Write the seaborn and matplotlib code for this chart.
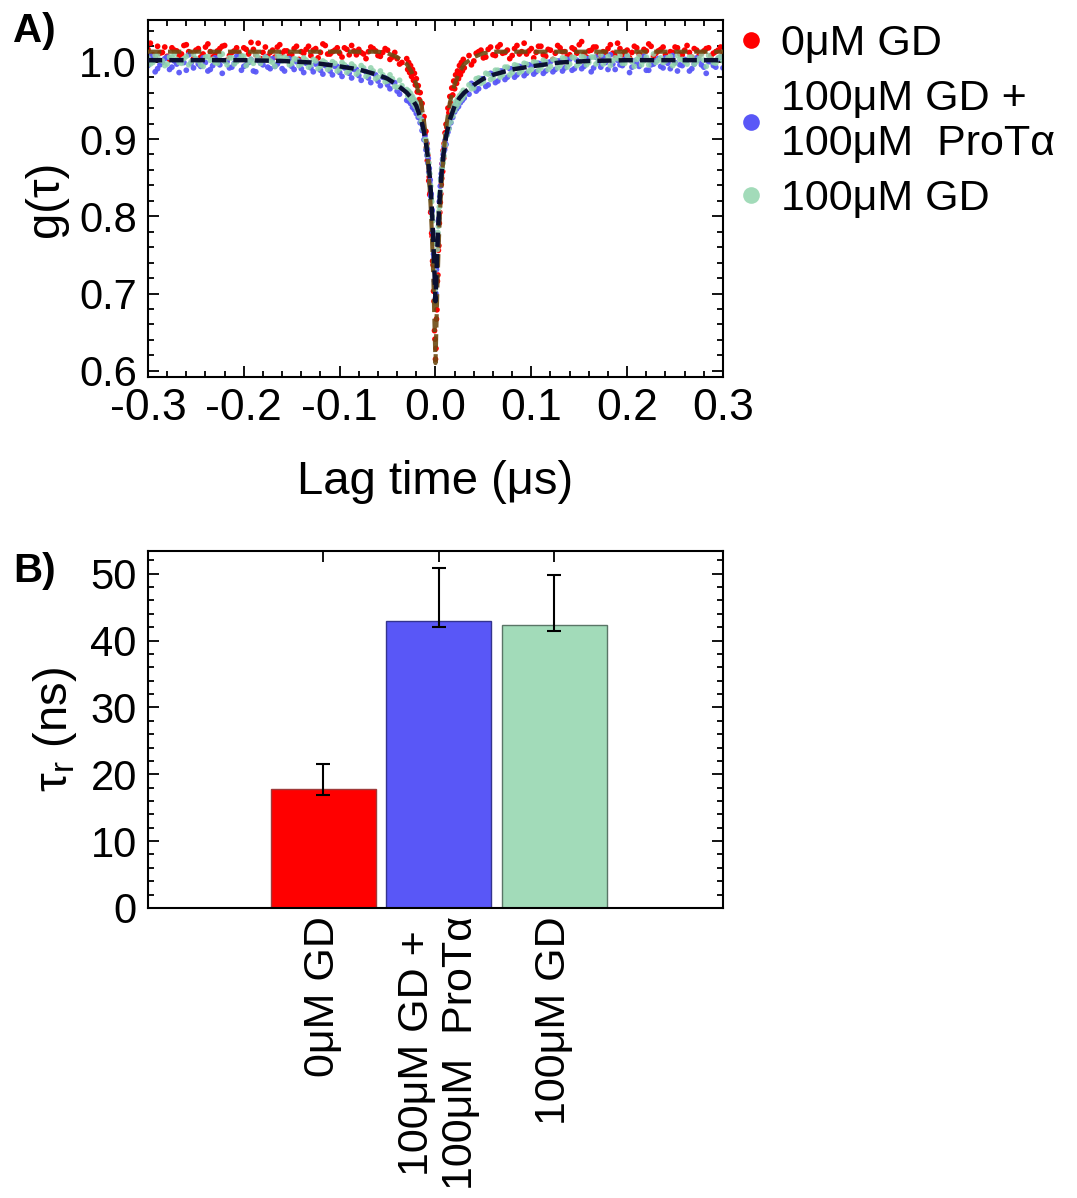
import numpy as np
import pandas as pd
import matplotlib
matplotlib.use("Agg")
import matplotlib.pyplot as plt
from matplotlib.lines import Line2D
from matplotlib.ticker import MultipleLocator, FixedLocator
import seaborn as sns

# ---------------------------------------------------------------- data --
# lag grid (µs): coarse wings, finer shoulders, finest bins around zero
WING = np.round(np.arange(0.035, 0.3001, 0.005), 3)
SHOULDER = np.round(np.arange(0.011, 0.0301, 0.001), 3)
CORE = np.round(np.arange(-0.010, 0.01001, 0.0005), 4)
LAG = np.concatenate([-WING[::-1], -SHOULDER[::-1], CORE, SHOULDER, WING])
# second set of wing bins, half a bin offset from the first
WING_B = np.round(np.arange(0.0375, 0.3, 0.005), 4)
LAG_B = np.concatenate([-WING_B[::-1], WING_B])

G_0GD = [
    1.016, 1.009, 1.020, 1.012, 1.007, 1.018, 1.014, 1.010, 1.022, 1.011,
    1.015, 1.006, 1.019, 1.013, 1.009, 1.017, 1.021, 1.008, 1.014, 1.011,
    1.018, 1.010, 1.016, 1.024, 1.012, 1.007, 1.015, 1.019, 1.011, 1.014,
    1.009, 1.020, 1.013, 1.016, 1.008, 1.017, 1.012, 1.021, 1.010, 1.015,
    1.011, 1.018, 1.009, 1.014, 1.016, 1.010, 1.013, 1.017, 1.008, 1.012,
    1.015, 1.006, 1.004, 0.999,
    1.004, 0.990, 0.999, 0.986, 0.995, 0.981, 0.990, 0.976, 0.985, 0.970,
    0.978, 0.961, 0.969, 0.951, 0.960, 0.941, 0.946, 0.925, 0.929, 0.906,
    0.910, 0.889, 0.894, 0.872, 0.879, 0.870, 0.846, 0.851, 0.828, 0.830,
    0.805, 0.806, 0.778, 0.774, 0.742, 0.737, 0.703, 0.690, 0.652, 0.641,
    0.615,
    0.629, 0.667, 0.679, 0.716, 0.724, 0.756, 0.762, 0.791, 0.805, 0.818,
    0.829, 0.841, 0.849, 0.868, 0.858, 0.885, 0.875, 0.894, 0.889, 0.908,
    0.919, 0.915, 0.940, 0.934, 0.955, 0.946, 0.966, 0.957, 0.975, 0.965,
    0.983, 0.972, 0.988, 0.978, 0.995, 0.983, 0.999, 0.988, 1.003, 0.992,
    1.008, 1.001, 1.013, 1.005, 1.016, 1.009, 1.019, 1.011, 1.015, 1.008,
    1.021, 1.013, 1.010, 1.017, 1.012, 1.020, 1.007, 1.015, 1.011, 1.018,
    1.013, 1.009, 1.016, 1.022, 1.010, 1.014, 1.019, 1.008, 1.013, 1.017,
    1.011, 1.024, 1.009, 1.015, 1.012, 1.018, 1.007, 1.014, 1.020, 1.011,
    1.016, 1.009, 1.013, 1.019, 1.010, 1.015, 1.012, 1.017, 1.008, 1.014,
    1.018, 1.011, 1.015, 1.010,
]
G_0GD_B = [
    1.024, 1.005, 1.011, 1.019, 1.003, 1.015, 1.008, 1.021, 1.013, 1.004,
    1.017, 1.010, 1.023, 1.006, 1.014, 1.020, 1.002, 1.012, 1.018, 1.007,
    1.016, 1.025, 1.009, 1.004, 1.019, 1.012, 1.006, 1.022, 1.014, 1.008,
    1.017, 1.003, 1.011, 1.020, 1.015, 1.005, 1.023, 1.010, 1.013, 1.018,
    1.006, 1.016, 1.021, 1.009, 1.012, 1.004, 1.019, 1.014,
    1.007, 1.017, 1.003, 1.012, 0.997,
    0.996, 1.011, 1.015, 1.006, 1.019,
    1.008, 1.022, 1.012, 1.004, 1.017, 1.010, 1.024, 1.014, 1.005, 1.020,
    1.009, 1.016, 1.003, 1.021, 1.013, 1.007, 1.018, 1.011, 1.026, 1.006,
    1.015, 1.019, 1.004, 1.012, 1.022, 1.008, 1.017, 1.013, 1.005, 1.020,
    1.010, 1.016, 1.023, 1.007, 1.014, 1.019, 1.004, 1.012, 1.018, 1.009,
    1.021, 1.006, 1.015, 1.011, 1.017, 1.008, 1.013, 1.019,
]

G_GD_PROTA = [
    0.995, 1.004, 0.991, 0.999, 1.006, 0.993, 0.997, 1.002, 0.989, 0.998,
    1.003, 0.994, 0.999, 0.990, 1.005, 0.996, 1.001, 0.992, 0.998, 1.007,
    0.994, 0.999, 0.988, 1.002, 0.996, 0.993, 1.004, 0.997, 0.991,
    1.002, 0.994, 1.000, 0.991, 0.998, 0.992, 0.997, 0.989, 0.995, 0.988,
    0.994, 0.986, 0.992, 0.985, 0.990, 0.982, 0.989, 0.979, 0.985, 0.975,
    0.980, 0.970, 0.974, 0.962, 0.965,
    0.950, 0.961, 0.949, 0.957, 0.946, 0.954, 0.941, 0.950, 0.938, 0.947,
    0.933, 0.942, 0.928, 0.935, 0.921, 0.926, 0.911, 0.917, 0.899, 0.904,
    0.886, 0.896, 0.879, 0.887, 0.869, 0.875, 0.857, 0.862, 0.843, 0.847,
    0.826, 0.829, 0.806, 0.808, 0.781, 0.779, 0.751, 0.747, 0.716, 0.711,
    0.694,
    0.700, 0.731, 0.737, 0.764, 0.768, 0.794, 0.797, 0.819, 0.826, 0.839,
    0.849, 0.855, 0.862, 0.868, 0.874, 0.880, 0.883, 0.890, 0.886, 0.898,
    0.893, 0.906, 0.909, 0.914, 0.922, 0.921, 0.930, 0.928, 0.938, 0.935,
    0.944, 0.939, 0.948, 0.942, 0.952, 0.947, 0.955, 0.950, 0.958, 0.953,
    0.958, 0.969, 0.965, 0.978, 0.970, 0.984, 0.975, 0.988, 0.980, 0.991,
    0.983, 0.993, 0.985, 0.995, 0.987, 0.997, 0.988, 1.000, 0.990, 1.001,
    0.992, 1.003, 0.991, 1.000, 0.994,
    1.004, 0.992, 0.999, 1.006, 0.990, 0.997, 1.002, 0.995, 1.007, 0.993,
    0.998, 1.003, 0.989, 0.996, 1.001, 0.994, 1.005, 0.991, 0.999, 0.996,
    1.003, 0.988, 0.997, 1.002, 0.993, 1.000, 0.995, 1.004, 0.992,
]
G_GD_PROTA_B = [
    1.008, 0.987, 0.996, 1.004, 0.990, 1.001, 0.986, 0.999, 1.009, 0.992,
    0.997, 1.005, 0.988, 0.995, 1.002, 0.985, 1.000, 0.993, 1.007, 0.989,
    0.996, 1.003, 0.987, 0.998, 1.006, 0.991, 0.994, 1.001,
    0.988, 1.004, 0.990, 1.001, 0.986, 0.999, 0.987, 0.997, 0.984, 0.996,
    0.983, 0.994, 0.981, 0.993, 0.979, 0.990, 0.976, 0.987, 0.973, 0.983,
    0.969, 0.979, 0.965, 0.973, 0.958,
    0.972, 0.962, 0.978, 0.968, 0.985, 0.973, 0.988, 0.977, 0.991, 0.980,
    0.994, 0.982, 0.996, 0.984, 0.998, 0.985, 0.999, 0.987, 1.001, 0.988,
    1.003, 0.989, 1.002, 0.991, 1.004,
    0.987, 1.006, 0.993, 0.999, 1.009, 0.990, 0.996, 1.003, 0.986, 1.001,
    0.994, 1.007, 0.989, 0.997, 1.004, 0.992, 0.998, 1.008, 0.988, 0.995,
    1.002, 0.991, 1.005, 0.996, 0.985, 1.000, 0.993, 1.006,
]

G_100GD = [
    1.005, 0.999, 1.008, 1.001, 0.997, 1.006, 1.003, 0.998, 1.007, 1.000,
    1.004, 0.996, 1.006, 1.002, 0.999, 1.008, 1.001, 1.005, 0.997, 1.003,
    1.007, 1.000, 0.998, 1.006, 1.002, 1.004, 0.999, 1.007, 1.001,
    1.004, 0.998, 1.003, 0.997, 1.002, 0.996, 1.001, 0.994, 0.999, 0.993,
    0.998, 0.991, 0.996, 0.989, 0.994, 0.987, 0.992, 0.984, 0.988, 0.980,
    0.983, 0.975, 0.978, 0.967, 0.969,
    0.964, 0.956, 0.962, 0.953, 0.959, 0.950, 0.955, 0.946, 0.951, 0.942,
    0.947, 0.937, 0.941, 0.930, 0.933, 0.922, 0.924, 0.912, 0.913, 0.899,
    0.899, 0.888, 0.891, 0.879, 0.881, 0.868, 0.869, 0.855, 0.855, 0.840,
    0.839, 0.822, 0.819, 0.800, 0.794, 0.772, 0.765, 0.740, 0.729, 0.705,
    0.688,
    0.711, 0.722, 0.746, 0.757, 0.779, 0.787, 0.806, 0.812, 0.829, 0.832,
    0.847, 0.849, 0.861, 0.862, 0.873, 0.869, 0.884, 0.878, 0.893, 0.892,
    0.906, 0.905, 0.918, 0.913, 0.928, 0.922, 0.936, 0.930, 0.943, 0.937,
    0.948, 0.942, 0.952, 0.946, 0.956, 0.950, 0.959, 0.953, 0.963, 0.957,
    0.970, 0.966, 0.979, 0.974, 0.984, 0.979, 0.989, 0.983, 0.993, 0.986,
    0.995, 0.988, 0.997, 0.990, 0.999, 0.992, 1.000, 0.994, 1.002, 0.995,
    1.004, 0.997, 1.005, 0.998, 1.006,
    0.999, 1.006, 1.002, 0.997, 1.007, 1.001, 1.004, 0.998, 1.008, 1.000,
    1.003, 0.996, 1.006, 1.002, 0.999, 1.005, 1.001, 1.007, 0.998, 1.003,
    1.000, 1.006, 0.997, 1.004, 1.002, 1.008, 0.999, 1.005, 1.001,
]
G_100GD_B = [
    0.997, 1.008, 1.002, 0.995, 1.006, 1.010, 0.999, 1.004, 0.996, 1.009,
    1.001, 0.994, 1.007, 1.003, 0.998, 1.010, 0.996, 1.005, 1.000, 1.008,
    0.995, 1.003, 1.009, 0.998, 1.006, 1.001, 0.994, 1.007,
    1.006, 0.996, 1.004, 0.995, 1.005, 0.993, 1.003, 0.991, 1.001, 0.990,
    1.000, 0.988, 0.999, 0.986, 0.997, 0.984, 0.995, 0.981, 0.992, 0.978,
    0.988, 0.974, 0.983, 0.968, 0.976,
    0.965, 0.978, 0.972, 0.985, 0.977, 0.989, 0.980, 0.993, 0.983, 0.996,
    0.986, 0.998, 0.988, 1.000, 0.989, 1.002, 0.990, 1.003, 0.992, 1.005,
    0.993, 1.006, 0.995, 1.007, 0.996,
    1.006, 0.997, 1.009, 1.001, 0.995, 1.005, 1.008, 0.998, 1.003, 0.994,
    1.007, 1.001, 0.996, 1.010, 1.002, 0.999, 1.005, 0.995, 1.008, 1.003,
    0.997, 1.006, 1.000, 1.009, 0.994, 1.004, 0.998, 1.007,
]

# fitted correlation curves, tabulated against |lag|
FIT_LAG = [0.0, 0.001, 0.002, 0.003, 0.004, 0.005, 0.006, 0.007, 0.008,
           0.010, 0.012, 0.015, 0.020, 0.025, 0.030, 0.040, 0.050, 0.060,
           0.080, 0.100, 0.130, 0.160, 0.200, 0.300]
FIT_0GD = [0.610, 0.660, 0.710, 0.750, 0.785, 0.812, 0.835, 0.855, 0.872,
           0.902, 0.923, 0.947, 0.971, 0.987, 0.997, 1.006, 1.011, 1.013,
           1.013, 1.013, 1.013, 1.013, 1.013, 1.013]
FIT_100GD = [0.690, 0.725, 0.760, 0.790, 0.815, 0.835, 0.851, 0.865, 0.877,
             0.895, 0.909, 0.925, 0.943, 0.953, 0.960, 0.970, 0.978, 0.983,
             0.990, 0.994, 0.999, 1.001, 1.002, 1.002]

# rotational correlation times
CONDITIONS = ["0μM GD", "100μM GD +\n100μM  ProTα", "100μM GD"]
LEGEND_LABELS = ["0μM GD", "100μM GD +\n100μM  ProTα", "100μM GD"]
TAU_R = [17.8, 42.9, 42.3]
TAU_R_LOW = [0.9, 0.8, 0.9]
TAU_R_HIGH = [3.8, 7.9, 7.5]

X_TICKS = [-0.3, -0.2, -0.1, 0.0, 0.1, 0.2, 0.3]
G_TICKS = [0.6, 0.7, 0.8, 0.9, 1.0]
TAU_TICKS = [0, 10, 20, 30, 40, 50]

for name, vals, grid in [("G_0GD", G_0GD, LAG), ("G_GD_PROTA", G_GD_PROTA, LAG),
                         ("G_100GD", G_100GD, LAG), ("G_0GD_B", G_0GD_B, LAG_B),
                         ("G_GD_PROTA_B", G_GD_PROTA_B, LAG_B),
                         ("G_100GD_B", G_100GD_B, LAG_B)]:
    assert len(vals) == len(grid), f"{name}: {len(vals)} values, {len(grid)} lags"

# -------------------------------------------------------------- styling --
RED = "#ff0000"
BLUE = "#5957f7"
GREEN = "#a2dbb9"
GREEN_DOT = "#8fd2ab"
FIT_RED = "#6e4a12"
FIT_DARK = "#0b1030"
EDGES = ["#a03a3a", "#34348f", "#5a7566"]

sns.set_theme(style="ticks")
plt.rcParams["font.family"] = ["Liberation Sans", "DejaVu Sans"]
plt.rcParams["mathtext.fontset"] = "custom"
plt.rcParams["mathtext.rm"] = "Liberation Sans"
plt.rcParams["axes.unicode_minus"] = False
plt.rcParams["axes.linewidth"] = 1.5
for key in ("text.color", "axes.labelcolor", "xtick.color", "ytick.color",
            "axes.edgecolor"):
    plt.rcParams[key] = "black"

FS_TICK = 30
FS_XTICK = 32
FS_CAT = 31
FS_LABEL = 34

fig = plt.figure(figsize=(10.77, 11.98), dpi=100)
ax1 = fig.add_axes([0.1374, 0.6853, 0.5339, 0.2980])
ax2 = fig.add_axes([0.1374, 0.2421, 0.5339, 0.2980])

# ----------------------------------------------------- panel A: g(tau) --
series = [(G_0GD, G_0GD_B, RED, 1.0),
          (G_GD_PROTA, G_GD_PROTA_B, BLUE, 0.95),
          (G_100GD, G_100GD_B, GREEN_DOT, 0.85)]
for vals, vals_b, col, a in series:
    df = pd.DataFrame({"lag": np.concatenate([LAG, LAG_B]),
                       "g": list(vals) + list(vals_b)})
    sns.scatterplot(data=df, x="lag", y="g", color=col, s=17, alpha=a,
                    edgecolor="none", linewidth=0, ax=ax1, legend=False,
                    zorder=2)

fit_lag = np.concatenate([-np.array(FIT_LAG[::-1]), np.array(FIT_LAG[1:])])
fit_red = np.concatenate([FIT_0GD[::-1], FIT_0GD[1:]])
fit_dark = np.concatenate([FIT_100GD[::-1], FIT_100GD[1:]])
ax1.plot(fit_lag, fit_red, color=FIT_RED, lw=3.0, ls=(0, (3.2, 1.6)),
         alpha=0.9, zorder=3)
ax1.plot(fit_lag, fit_dark, color=FIT_DARK, lw=3.2, ls=(0, (3.2, 1.6)),
         zorder=4)

ax1.set_xlim(-0.3, 0.3)
ax1.set_ylim(0.592, 1.054)
ax1.xaxis.set_major_locator(FixedLocator(X_TICKS))
ax1.xaxis.set_minor_locator(MultipleLocator(0.02))
ax1.yaxis.set_major_locator(FixedLocator(G_TICKS))
ax1.yaxis.set_minor_locator(MultipleLocator(0.02))
ax1.set_xticklabels([f"{v:.1f}" for v in X_TICKS])
ax1.set_yticklabels([f"{v:.1f}" for v in G_TICKS])
ax1.set_xlabel("Lag time (μs)", fontsize=FS_LABEL, labelpad=22)
ax1.set_ylabel("g(τ)", fontsize=FS_LABEL, labelpad=8)

handles = [Line2D([], [], ls="", marker="o", markersize=12, color=c,
                  markeredgewidth=0) for c in (RED, BLUE, GREEN)]
leg = ax1.legend(handles, LEGEND_LABELS, loc="upper left",
                 bbox_to_anchor=(1.03, 0.99), frameon=False,
                 fontsize=FS_CAT, handlelength=0.5, handletextpad=0.45,
                 borderpad=0, borderaxespad=0, labelspacing=0.35)
for t in leg.get_texts():
    t.set_linespacing(1.16)

# --------------------------------------------------- panel B: tau_r bars --
bar_df = pd.DataFrame({"condition": CONDITIONS, "tau": TAU_R})
sns.barplot(data=bar_df, x="condition", y="tau", hue="condition",
            palette=[RED, BLUE, GREEN], saturation=1, width=0.91,
            errorbar=None, legend=False, ax=ax2, zorder=2)
for patch, ec in zip(ax2.patches, EDGES):
    patch.set_edgecolor(ec)
    patch.set_linewidth(1.0)
ax2.errorbar(x=np.arange(len(TAU_R)), y=TAU_R, yerr=[TAU_R_LOW, TAU_R_HIGH],
             fmt="none", ecolor="black", elinewidth=1.5, capsize=5,
             capthick=1.5, zorder=3)

ax2.set_xlim(-1.52, 3.46)
ax2.set_ylim(0, 53.4)
ax2.yaxis.set_major_locator(FixedLocator(TAU_TICKS))
ax2.yaxis.set_minor_locator(MultipleLocator(2))
ax2.set_yticklabels([str(v) for v in TAU_TICKS])
ax2.set_xticks(range(len(CONDITIONS)))
ax2.set_xticklabels(CONDITIONS, rotation=90, va="top", ha="center",
                    fontsize=FS_CAT, linespacing=1.12)
ax2.set_xlabel("")
ax2.set_ylabel("$\\mathregular{τ_r}$ (ns)", fontsize=FS_LABEL, labelpad=8)

for ax in (ax1, ax2):
    ax.tick_params(which="both", direction="in", top=True, right=True,
                   width=1.3, color="black")
    ax.tick_params(which="major", length=8, pad=8)
    ax.tick_params(which="minor", length=4.5)
    ax.tick_params(axis="y", labelsize=FS_TICK)
    for sp in ax.spines.values():
        sp.set_visible(True)
        sp.set_color("black")
        sp.set_linewidth(1.5)
ax1.tick_params(axis="x", labelsize=FS_XTICK)
ax2.tick_params(axis="x", which="minor", bottom=False, top=False)
ax2.tick_params(axis="x", which="major", pad=6)

fig.text(0.012, 0.990, "A)", fontsize=29, fontweight="bold", va="top")
fig.text(0.012, 0.539, "B)", fontsize=29, fontweight="bold", va="top")

fig.savefig("out.png", dpi=100, facecolor="white")
